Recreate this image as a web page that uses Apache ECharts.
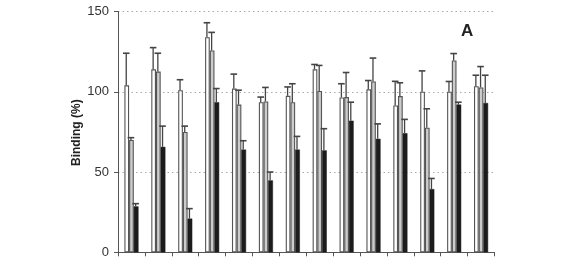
<!DOCTYPE html>
<html>
<head>
<meta charset="utf-8">
<script src="https://cdn.jsdelivr.net/npm/echarts@6/dist/echarts.min.js"></script>
<style>
html,body{margin:0;padding:0;background:#fff;}
#c{width:567px;height:276px;}
</style>
</head>
<body>
<div id="c"></div>
<script>
var categories = ['1','2','3','4','5','6','7','8','9','10','11','12','13','14'];
var whiteVals = [104, 114, 101, 134, 102, 93.5, 97.5, 114, 96.5, 101.5, 91.5, 100, 100, 103.5];
var whiteErr  = [20, 13.5, 6.5, 9, 9, 3.2, 5.5, 3, 8.5, 5.5, 15, 13, 6.4, 6.8];
var grayVals  = [70, 112.6, 75, 125.7, 92, 94, 93.5, 100.5, 96.7, 106.4, 97.3, 77.6, 119.5, 102.7];
var grayErr   = [1.4, 11.4, 3.6, 11.3, 9, 8.7, 11.5, 15.9, 15.3, 14.6, 8.3, 11.8, 4.3, 13];
var blackVals = [28.6, 65.7, 21, 93.5, 64, 44.8, 64, 63.5, 82, 70.7, 74.2, 39.4, 92, 93];
var blackErr  = [1.7, 12.9, 6.2, 8.5, 5.5, 5.2, 8.2, 13.5, 11.5, 9.3, 8.6, 6.6, 1.5, 17.3];
var yTicks = [0, 50, 100, 150];

var BW = 4.7;
var chart = echarts.init(document.getElementById('c'), null, {renderer:'canvas'});

function errSeries(vals, errs, k) {
  return {
    type: 'custom',
    z: 5,
    data: vals.map(function(v, i){ return [i, v, errs[i]]; }),
    renderItem: function(params, api) {
      var idx = api.value(0), v = api.value(1), e = api.value(2);
      var p0 = api.coord([idx, v]);
      var p1 = api.coord([idx, v + e]);
      var x = p0[0] + (k - 1) * BW - 0.5;
      return {
        type: 'group',
        children: [
          {type:'line', shape:{x1:x, y1:p0[1], x2:x, y2:p1[1]}, style:{stroke:'#444', lineWidth:1.3}},
          {type:'line', shape:{x1:x-3.3, y1:p1[1], x2:x+3.3, y2:p1[1]}, style:{stroke:'#444', lineWidth:1.6}}
        ]
      };
    }
  };
}

chart.setOption({
  animation: false,
  grid: {left: 118, right: 72.5, top: 11.5, bottom: 23.7},
  xAxis: {
    type: 'category',
    data: categories,
    boundaryGap: true,
    axisLine: {lineStyle: {color: '#555', width: 1}},
    axisTick: {show: true, interval: 0, length: 4, lineStyle: {color: '#555'}},
    axisLabel: {show: false},
    splitLine: {show: false}
  },
  yAxis: {
    type: 'value',
    min: yTicks[0], max: yTicks[yTicks.length-1], interval: 50,
    axisLine: {show: true, lineStyle: {color: '#555', width: 1}},
    axisTick: {show: true, length: 4, lineStyle: {color: '#555'}},
    axisLabel: {fontSize: 13, color: '#333', fontFamily: 'Liberation Sans, Arial, sans-serif', margin: 9},
    splitLine: {show: true, lineStyle: {color: '#aaa', type: [1.5, 3], width: 1}}
  },
  graphic: [
    {type:'text', x: 71, y: 166, rotation: Math.PI/2, style:{text:'Binding (%)', font:'bold 12px Liberation Sans, Arial, sans-serif', fill:'#222'}},
    {type:'text', x: 461, y: 23, style:{text:'A', font:'bold 17px Liberation Sans, Arial, sans-serif', fill:'#222'}}
  ],
  series: [
    {type:'bar', data: whiteVals, barWidth: BW, barGap: '0%', itemStyle:{color:'#fff', borderColor:'#555', borderWidth:1.1}},
    {type:'bar', data: grayVals, barWidth: BW, barGap: '0%', itemStyle:{color:'#cccccc', borderColor:'#555', borderWidth:1.1}},
    {type:'bar', data: blackVals, barWidth: BW, barGap: '0%', itemStyle:{color:'#1c1c1c', borderColor:'#1c1c1c', borderWidth:0.5}},
    errSeries(whiteVals, whiteErr, 0),
    errSeries(grayVals, grayErr, 1),
    errSeries(blackVals, blackErr, 2)
  ]
});
</script>
</body>
</html>
